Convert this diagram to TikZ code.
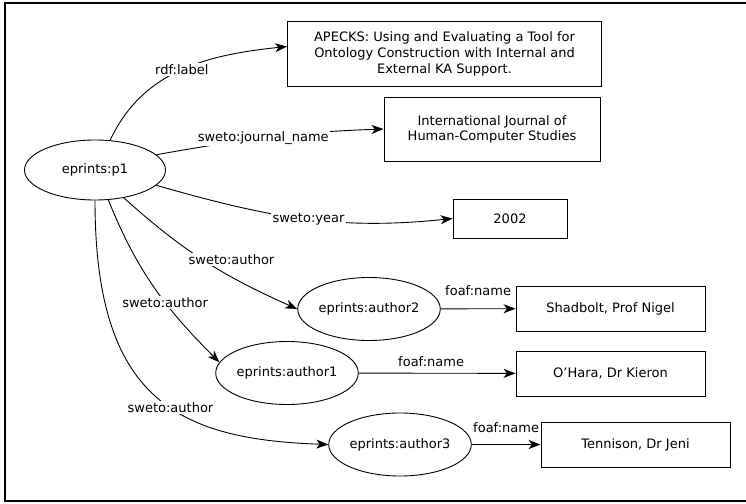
\documentclass[tikz,border=0pt]{standalone}
\usepackage{fontspec}
\setmainfont{DejaVu Sans}
\usetikzlibrary{arrows.meta,shapes.geometric}

\begin{document}
\begin{tikzpicture}[x=1pt, y=1pt,
  font=\fontsize{13}{15}\selectfont,
  res/.style={draw, ellipse, line width=0.9pt, inner sep=0pt, minimum width=141pt, minimum height=63pt},
  lit/.style={draw, rectangle, line width=0.9pt, align=center, inner sep=0pt},
  prop/.style={fill=white, inner sep=1.5pt},
  rel/.style={-{Stealth[length=12pt, width=9pt, inset=3.5pt]}, line width=0.9pt}]
\useasboundingbox (0,0) rectangle (746,-503);
% Frame
\draw[line width=2pt] (5,-3) rectangle (752,-501);

% Paper resource
\node[res, minimum height=60pt] (p1) at (95,-170) {eprints:p1};

% Literal values of the paper
\node[lit, minimum width=314pt, minimum height=65pt] (title) at (444.5,-53.5)
  {APECKS: Using and Evaluating a Tool for\\[1pt]Ontology Construction with Internal and\\[1pt]External KA Support.};
\node[lit, minimum width=216pt, minimum height=64pt] (journal) at (492,-129) {International Journal of\\Human-Computer Studies};
\node[lit, minimum width=114pt, minimum height=39pt] (year) at (510,-218.5) {2002};

% Authors
\node[res] (a2) at (369,-309) {eprints:author2};
\node[res] (a1) at (287,-373) {eprints:author1};
\node[res] (a3) at (400,-444.5) {eprints:author3};

% Author names
\node[lit, minimum width=189pt, minimum height=45pt] (n2) at (610.5,-308.5) {Shadbolt, Prof Nigel};
\node[lit, minimum width=189pt, minimum height=45pt] (n1) at (610.5,-373.5) {O'Hara, Dr Kieron};
\node[lit, minimum width=189pt, minimum height=45pt] (n3) at (635.5,-444.5) {Tennison, Dr Jeni};

% Properties of the paper
\draw[rel] (p1.63) to[out=65, in=186] node[prop, pos=0.5] {rdf:label} ([yshift=7pt]title.west);
\draw[rel] (p1.14) to[out=10, in=182] node[prop, pos=0.47] {sweto:journal\_name} (journal.west);
\draw[rel] (p1.-14) to[out=-16, in=186] node[prop, pos=0.52] {sweto:year} (year.west);

% Authorship
\draw[rel] (p1.-44) to[out=-42, in=156] node[prop, pos=0.55, xshift=18pt, yshift=7pt] {sweto:author} (a2.west);
\draw[rel] (p1.-66) to[out=-68, in=135] node[prop, pos=0.6] {sweto:author} (a1.171);
\draw[rel] (p1.south) to[out=-90, in=178, out distance=200pt, in distance=150pt] node[prop, pos=0.56] {sweto:author} (a3.west);

% Names
\draw[rel] (a2) -- node[above=9pt] {foaf:name} (n2);
\draw[rel] (a1) -- node[above=3pt, xshift=-6pt] {foaf:name} (n1);
\draw[rel] (a3) -- node[above=8pt] {foaf:name} (n3);
\end{tikzpicture}
\end{document}
